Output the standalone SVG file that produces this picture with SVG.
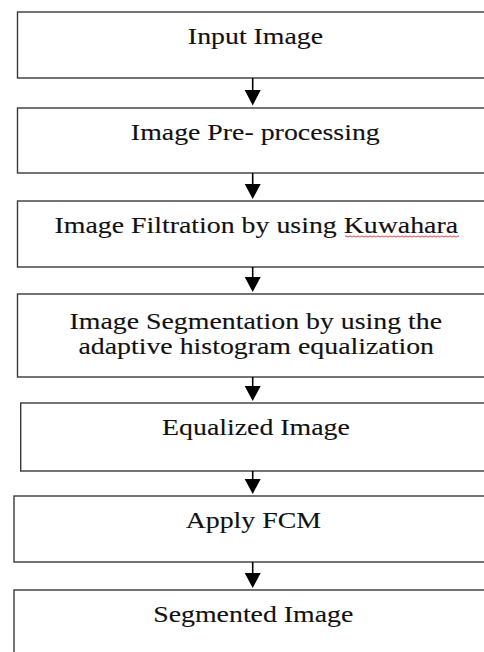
<svg xmlns="http://www.w3.org/2000/svg" width="484" height="652" viewBox="0 0 484 652">
<style>
.box{fill:#fff;stroke:#3a3a3a;stroke-width:1.4}
.t{font-family:"Liberation Serif","Times New Roman",serif;font-size:24px;fill:#111;stroke:#111;stroke-width:0.12;text-anchor:middle}
.c{stroke:#000;stroke-width:1.6;fill:none}
.h{fill:#000}
</style>
<rect width="484" height="652" fill="#fff"/>
<g id="n1"><rect class="box" x="17.5" y="12" width="480" height="66"/><text class="t" transform="translate(255.5 44.3) scale(1.16 1)">Input Image</text></g>
<g id="n2"><rect class="box" x="17.5" y="108" width="480" height="65"/><text class="t" transform="translate(255.3 140.3) scale(1.16 1)">Image Pre- processing</text></g>
<g id="n3"><rect class="box" x="17.5" y="201" width="480" height="66"/><text class="t" transform="translate(256.3 233.3) scale(1.16 1)">Image Filtration by using Kuwahara</text>
<path d="M345 236.5 q1 -1.2 2 0 t2 0 t2 0 t2 0 t2 0 t2 0 t2 0 t2 0 t2 0 t2 0 t2 0 t2 0 t2 0 t2 0 t2 0 t2 0 t2 0 t2 0 t2 0 t2 0 t2 0 t2 0 t2 0 t2 0 t2 0 t2 0 t2 0 t2 0 t2 0 t2 0 t2 0 t2 0 t2 0 t2 0 t2 0 t2 0 t2 0 t2 0 t2 0 t2 0 t2 0 t2 0 t2 0 t2 0 t2 0 t2 0 t2 0 t2 0 t2 0 t2 0 t2 0 t2 0 t2 0 t2 0 t2 0 t2 0 t2 0" fill="none" stroke="#e03030" stroke-width="0.9"/></g>
<g id="n4"><rect class="box" x="17.5" y="294" width="480" height="83"/><text class="t" transform="translate(255.8 328.7) scale(1.16 1)">Image Segmentation by using the</text><text class="t" transform="translate(256.2 354) scale(1.16 1)">adaptive histogram equalization</text></g>
<g id="n5"><rect class="box" x="20.7" y="403" width="480" height="68"/><text class="t" transform="translate(256 435) scale(1.16 1)">Equalized Image</text></g>
<g id="n6"><rect class="box" x="14" y="496" width="480" height="66"/><text class="t" transform="translate(253.3 528.3) scale(1.16 1)">Apply FCM</text></g>
<g id="n7"><rect class="box" x="14" y="590" width="480" height="80"/><text class="t" transform="translate(253.3 621.7) scale(1.16 1)">Segmented Image</text></g>
<g id="connectors">
<line class="c" x1="252.7" y1="78" x2="252.7" y2="92"/><polygon class="h" points="244.7,90 260.7,90 252.7,105.5"/>
<line class="c" x1="252.7" y1="173" x2="252.7" y2="186"/><polygon class="h" points="244.7,184 260.7,184 252.7,199"/>
<line class="c" x1="252.7" y1="267" x2="252.7" y2="279"/><polygon class="h" points="244.7,277 260.7,277 252.7,292"/>
<line class="c" x1="252.7" y1="377" x2="252.7" y2="388"/><polygon class="h" points="244.7,386 260.7,386 252.7,401"/>
<line class="c" x1="252.7" y1="471" x2="252.7" y2="481"/><polygon class="h" points="244.7,479 260.7,479 252.7,494"/>
<line class="c" x1="252.7" y1="562" x2="252.7" y2="575"/><polygon class="h" points="244.7,573 260.7,573 252.7,588"/>
</g>
</svg>
